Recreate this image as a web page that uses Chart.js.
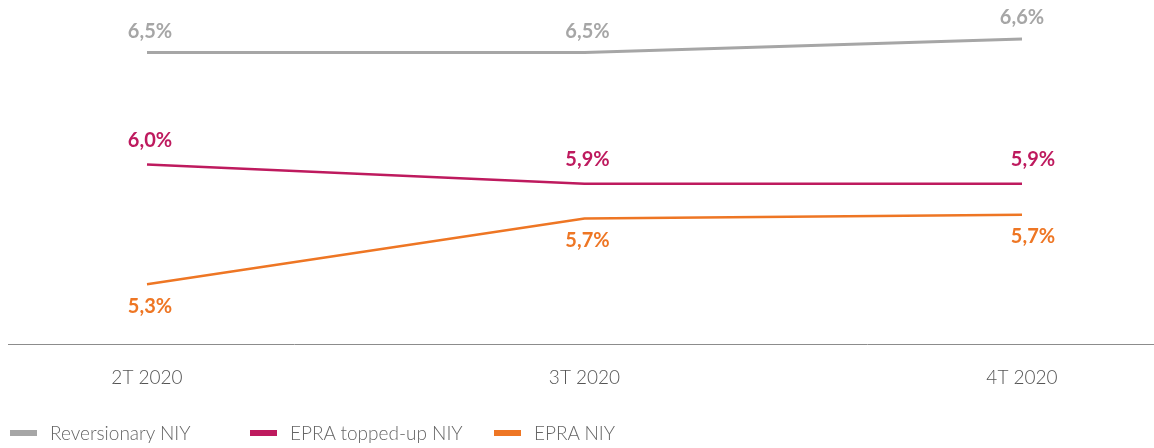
<!DOCTYPE html>
<html>
<head>
<meta charset="utf-8">
<script src="https://cdn.jsdelivr.net/npm/chart.js@4/dist/chart.umd.min.js"></script>
<style>
    html, body { margin: 0; padding: 0; background: #fff; }
    #wrap { position: relative; width: 1154px; height: 448px; }
    #legend { position: absolute; left: 10px; top: 421px; display: flex; font-family: Lato, sans-serif; font-weight: 300; font-size: 19px; color: #666; }
    .item { display: flex; align-items: center; }
    .swatch { width: 27px; height: 6px; margin-right: 13px; }
</style>
</head>
<body>
<div id="wrap">
    <canvas id="chart" width="1154" height="448"></canvas>
    <div id="legend"></div>
</div>
<script>
// data
const quarters = ['2T 2020', '3T 2020', '4T 2020'];
const reversionaryNiy = [6.54, 6.54, 6.61];
const epraToppedUpNiy = [5.96, 5.86, 5.86];
const epraNiy = [5.34, 5.68, 5.70];
const seriesNames = ['Reversionary NIY', 'EPRA topped-up NIY', 'EPRA NIY'];

const colors = ['#a6a6a6', '#be1a5e', '#ee7624'];
const legendWidths = [240, 244, 150];

// value labels: above / below the point, last point nudged right for the two lower lines
const labelOffsets = [
    { dy: -21, lastDx: 0 },
    { dy: -24, lastDx: 11 },
    { dy: 22, lastDx: 11 }
];

const fmt = v => v.toFixed(1).replace('.', ',') + '%';

const valueLabels = {
    id: 'valueLabels',
    afterDatasetsDraw(chart) {
        const ctx = chart.ctx;
        ctx.save();
        ctx.font = 'bold 20px Lato, sans-serif';
        ctx.textAlign = 'center';
        ctx.textBaseline = 'middle';
        chart.data.datasets.forEach((ds, i) => {
            const meta = chart.getDatasetMeta(i);
            const off = labelOffsets[i];
            ctx.fillStyle = ds.borderColor;
            meta.data.forEach((pt, j) => {
                const dx = j === meta.data.length - 1 ? off.lastDx : 3;
                ctx.fillText(fmt(ds.data[j]), pt.x + dx, pt.y + off.dy);
            });
        });
        ctx.restore();
    }
};

// thin baseline across the full width
const baseline = {
    id: 'baseline',
    beforeDatasetsDraw(chart) {
        const ctx = chart.ctx;
        const y = chart.chartArea.bottom + 0.5;
        ctx.save();
        ctx.strokeStyle = '#8c8c8c';
        ctx.lineWidth = 1;
        ctx.beginPath();
        ctx.moveTo(8, y);
        ctx.lineTo(chart.width, y);
        ctx.stroke();
        ctx.restore();
    }
};

const seriesData = [reversionaryNiy, epraToppedUpNiy, epraNiy];

new Chart(document.getElementById('chart'), {
    type: 'line',
    data: {
        labels: quarters,
        datasets: seriesData.map((d, i) => ({
            label: seriesNames[i],
            data: d,
            borderColor: colors[i],
            borderWidth: i === 0 ? 3 : 2.5,
            pointRadius: 0,
            tension: 0,
            fill: false
        }))
    },
    options: {
        responsive: false,
        animation: false,
        layout: { padding: { top: 10, left: 147, right: 132, bottom: 0 } },
        scales: {
            x: {
                offset: false,
                grid: { display: false, drawTicks: false },
                border: { display: false },
                ticks: {
                    padding: 22,
                    color: '#555',
                    font: { family: 'Lato, sans-serif', size: 19, weight: 300 }
                },
                afterFit: (scale) => { scale.height = 104; }
            },
            y: {
                display: false,
                min: 5.03,
                max: 6.76
            }
        },
        plugins: {
            legend: { display: false },
            tooltip: { enabled: false }
        }
    },
    plugins: [baseline, valueLabels]
});

// legend as plain html
const legendEl = document.getElementById('legend');
seriesNames.forEach((name, i) => {
    legendEl.innerHTML += `<div class="item" style="width:${legendWidths[i]}px">
        <span class="swatch" style="background:${colors[i]}"></span><span>${name}</span></div>`;
});
</script>
</body>
</html>
